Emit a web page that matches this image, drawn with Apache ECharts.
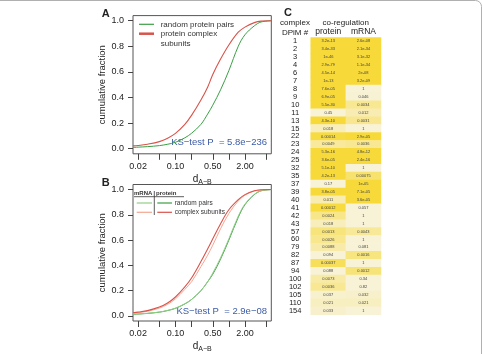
<!DOCTYPE html>
<html>
<head>
<meta charset="utf-8">
<script src="https://cdn.jsdelivr.net/npm/echarts@6/dist/echarts.min.js"></script>
<style>
html, body { margin: 0; padding: 0; background: #fff; }
#chart { width: 483px; height: 354px; }
</style>
</head>
<body>
<div id="chart"></div>
<script>
// d_A-B sample points, shared by all curves
var dValues = [0.016, 0.02, 0.03, 0.05, 0.07, 0.1, 0.15, 0.2, 0.3, 0.4, 0.5, 0.7, 1, 1.5, 2, 3, 4, 6.2];

// panel A: cumulative fraction
var randomPairsA     = [0.010, 0.012, 0.016, 0.024, 0.034, 0.050, 0.085, 0.12, 0.19, 0.27, 0.34, 0.46, 0.61, 0.80, 0.89, 0.96, 0.99, 1.0];
var complexSubunitsA = [0.022, 0.025, 0.035, 0.055, 0.080, 0.120, 0.190, 0.26, 0.38, 0.48, 0.58, 0.70, 0.81, 0.91, 0.95, 0.985, 0.997, 1.0];

// panel B: protein and mRNA
var randomProteinB  = [0.012, 0.015, 0.020, 0.030, 0.042, 0.060, 0.095, 0.13, 0.20, 0.27, 0.33, 0.45, 0.60, 0.78, 0.88, 0.96, 0.99, 1.0];
var randomMrnaB     = [0.013, 0.016, 0.021, 0.031, 0.043, 0.062, 0.097, 0.13, 0.20, 0.27, 0.34, 0.46, 0.61, 0.79, 0.885, 0.962, 0.99, 1.0];
var complexProteinB = [0.025, 0.030, 0.042, 0.070, 0.100, 0.150, 0.230, 0.30, 0.43, 0.53, 0.61, 0.73, 0.84, 0.92, 0.96, 0.99, 0.998, 1.0];
var complexMrnaB    = [0.020, 0.025, 0.037, 0.062, 0.090, 0.135, 0.210, 0.27, 0.39, 0.48, 0.56, 0.69, 0.81, 0.91, 0.955, 0.988, 0.997, 1.0];

var xTicks = [0.02, 0.05, 0.1, 0.2, 0.5, 1, 2, 5];
var xTickLabels = [0.02, 0.1, 0.5, 2];
var yTicks = [0, 0.2, 0.4, 0.6, 0.8, 1];

// panel C: KS-test p values per complex
var complexIds = ['1', '2', '3', '4', '6', '7', '8', '9', '10', '11', '13', '15', '22', '23', '24', '25', '32', '35', '37', '39',
                  '40', '41', '42', '43', '57', '60', '79', '82', '87', '94', '100', '102', '105', '110', '154'];
var proteinP = [3.2e-13, 3.4e-33, 1.0e-46, 2.9e-79, 4.5e-14, 1e-13, 7.6e-05, 6.9e-05, 5.5e-30, 0.45, 4.3e-10, 0.018, 0.00014, 0.0049, 5.3e-16, 3.6e-05, 5.1e-10, 4.2e-13, 0.17, 3.8e-05,
                0.011, 0.00012, 0.0024, 0.018, 0.0013, 0.0026, 0.0088, 0.094, 0.00037, 0.088, 0.0073, 0.0036, 0.037, 0.021, 0.033];
var mrnaP = [2.6e-08, 2.1e-34, 3.1e-32, 1.1e-34, 2.0e-08, 3.2e-09, 1, 0.046, 0.0034, 0.012, 0.0031, 1, 2.9e-05, 0.0036, 4.8e-12, 2.4e-16, 1, 0.00075, 1.0e-05, 7.1e-05,
             3.6e-05, 0.057, 1, 1, 0.0043, 1, 0.081, 0.0016, 1, 0.0012, 0.34, 0.82, 0.032, 0.021, 1];

var FONT = '"Liberation Sans", Arial, Helvetica, sans-serif';
var log10 = Math.log10;

function curve (ys) {
  return dValues.map(function (d, i) { return [log10(d), ys[i]]; });
}

// p value text like R prints it
function fmtP (p) {
  if (p >= 1e-4) return String(p);
  var s = p.toExponential(1).replace('.0e', 'e');
  return s.replace(/e-(\d)$/, 'e-0$1');
}

function score (p) {
  return Math.min(-log10(p), 4);
}

var xMin = log10(0.02) - 0.096;
var xMax = log10(5) + 0.096;

function xAxisFor (gi) {
  return {
    type: 'value', gridIndex: gi, min: xMin, max: xMax,
    axisLine: { show: false, onZero: false },
    splitLine: { show: false },
    axisTick: { show: true, length: 6, lineStyle: { color: '#444' }, customValues: xTicks.map(log10) },
    axisLabel: {
      customValues: xTickLabels.map(log10), margin: 8, fontSize: 9, color: '#222', fontFamily: FONT,
      formatter: function (v) { return Math.pow(10, v).toFixed(2); }
    },
    name: 'd{s|A\u2212B}', nameLocation: 'middle', nameGap: 18,
    nameTextStyle: { fontSize: 10, color: '#222', fontFamily: FONT, rich: { s: { fontSize: 7, color: '#222', fontFamily: FONT, padding: [7, 0, 0, 0] } } }
  };
}

function yAxisFor (gi) {
  return {
    type: 'value', gridIndex: gi, min: -0.04, max: 1.04,
    axisLine: { show: false, onZero: false },
    splitLine: { show: false },
    axisTick: { show: true, length: 5, lineStyle: { color: '#444' }, customValues: yTicks },
    axisLabel: {
      customValues: yTicks, margin: 9, fontSize: 9, color: '#222', fontFamily: FONT,
      formatter: function (v) { return v.toFixed(1); }
    },
    name: 'cumulative fraction', nameLocation: 'middle', nameGap: 25,
    nameTextStyle: { fontSize: 9.5, color: '#222', fontFamily: FONT }
  };
}

function line (gi, ys, color, width) {
  return {
    type: 'line', xAxisIndex: gi, yAxisIndex: gi, data: curve(ys),
    smooth: 0.35, showSymbol: false, silent: true,
    lineStyle: { color: color, width: width || 1 }
  };
}

function txt (x, y, text, size, opts) {
  opts = opts || {};
  return {
    type: 'text', x: x, y: y, silent: true,
    style: {
      text: text, fill: opts.color || '#222',
      font: (opts.bold ? 'bold ' : '') + size + 'px ' + FONT,
      align: opts.align || 'left', verticalAlign: 'middle',
      textAlign: opts.align || 'left', textVerticalAlign: 'middle'
    }
  };
}

function seg (x1, y1, x2, y2, color, w) {
  return { type: 'line', silent: true, shape: { x1: x1, y1: y1, x2: x2, y2: y2 }, style: { stroke: color, lineWidth: w || 1 } };
}

var GREEN = '#3a9f45', RED = '#d9534a', LGREEN = '#92cf86', SALMON = '#f4a692', BLUE = '#3c5ba6';

var heatData = [];
complexIds.forEach(function (id, i) {
  heatData.push([0, i, score(proteinP[i])]);
  heatData.push([1, i, score(mrnaP[i])]);
});

var myChart = echarts.init(document.getElementById('chart'));
myChart.setOption({
  animation: false,
  backgroundColor: '#fff',
  grid: [
    { left: 133, top: 15.6, width: 138.3, height: 138.2, show: true, borderColor: '#555', borderWidth: 1 },
    { left: 133, top: 184.5, width: 138.3, height: 138.9, show: true, borderColor: '#555', borderWidth: 1 },
    { left: 310.7, top: 37.4, width: 70.3, height: 277.3 }
  ],
  xAxis: [
    xAxisFor(0),
    xAxisFor(1),
    {
      type: 'category', gridIndex: 2, position: 'top', data: ['protein', 'mRNA'],
      axisLine: { show: false }, axisTick: { show: false },
      axisLabel: { fontSize: 8.5, color: '#222', fontFamily: FONT, margin: 1 }
    }
  ],
  yAxis: [
    yAxisFor(0),
    yAxisFor(1),
    {
      type: 'category', gridIndex: 2, inverse: true, data: complexIds,
      axisLine: { show: false }, axisTick: { show: false },
      axisLabel: { fontSize: 7.5, color: '#222', fontFamily: FONT, align: 'center', margin: 15.5, interval: 0 }
    }
  ],
  visualMap: {
    type: 'continuous', show: false, seriesIndex: 6, dimension: 2,
    min: 1.3, max: 4,
    inRange: { color: ['#f8f2d6', '#f7da3a'] },
    outOfRange: { color: '#ffffff' }
  },
  series: [
    line(0, randomPairsA, GREEN, 1),
    line(0, complexSubunitsA, RED, 1.1),
    line(1, randomProteinB, GREEN, 1),
    line(1, randomMrnaB, LGREEN, 1),
    line(1, complexMrnaB, SALMON, 1),
    line(1, complexProteinB, RED, 1.1),
    {
      type: 'heatmap', xAxisIndex: 2, yAxisIndex: 2, data: heatData, silent: true,
      label: {
        show: true, fontSize: 4, color: '#444', fontFamily: FONT,
        formatter: function (p) {
          var row = p.value[1];
          return fmtP(p.value[0] === 0 ? proteinP[row] : mrnaP[row]);
        }
      },
      emphasis: { disabled: true }
    }
  ],
  graphic: [
    { type: 'rect', silent: true, shape: { x: -10, y: 0.5, width: 491.5, height: 380, r: 6 }, style: { fill: 'none', stroke: '#b0b0b0', lineWidth: 1 } },
    txt(101.7, 14, 'A', 11, { bold: true }),
    txt(101.7, 183, 'B', 11, { bold: true }),
    txt(284, 13.3, 'C', 11, { bold: true }),
    // legend A
    seg(139, 24.3, 154, 24.3, GREEN, 1.2),
    txt(160.7, 24.5, 'random protein pairs', 8, { color: '#333' }),
    seg(139, 33.7, 154, 33.7, RED, 2.5),
    txt(160.7, 34, 'protein complex', 8, { color: '#333' }),
    txt(160.7, 43.7, 'subunits', 8, { color: '#333' }),
    txt(267, 142, 'KS\u2212test P  = 5.8e\u2212236', 9.5, { color: BLUE, align: 'right' }),
    // legend B
    txt(134, 193.3, 'mRNA', 6, { bold: true, color: '#333' }),
    txt(156, 193.3, 'protein', 6, { bold: true, color: '#333' }),
    seg(134, 196.7, 184, 196.7, '#333', 0.8),
    seg(154.3, 191, 154.3, 215, '#333', 0.8),
    seg(136.7, 203, 152, 203, LGREEN, 1.2),
    seg(157.3, 203, 172, 203, GREEN, 1.2),
    txt(174.7, 203, 'random pairs', 6.5, { color: '#333' }),
    seg(136.7, 212.3, 152, 212.3, SALMON, 1.2),
    seg(157.3, 212.3, 172, 212.3, RED, 1.2),
    txt(174.7, 212.3, 'complex subunits', 6.5, { color: '#333' }),
    txt(267, 311, 'KS\u2212test P  = 2.9e\u221208', 9.5, { color: BLUE, align: 'right' }),
    // table headers
    txt(295, 22.7, 'complex', 8, { align: 'center' }),
    txt(295, 32.3, 'DPiM #', 8, { align: 'center' }),
    txt(345.7, 22.7, 'co-regulation', 8, { align: 'center' })
  ]
});
</script>
</body>
</html>
